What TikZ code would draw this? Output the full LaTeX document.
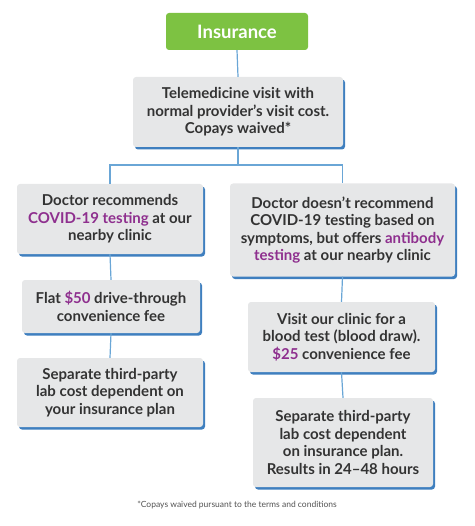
\documentclass[tikz,border=0pt]{standalone}
\usepackage{fontspec}
\setmainfont{Lato}
\usetikzlibrary{shadows}
\definecolor{boxfill}{HTML}{E6E7E8}
\definecolor{shadowblue}{HTML}{3F7FBF}
\definecolor{linkblue}{HTML}{6AA6D6}
\definecolor{txt}{HTML}{333333}
\definecolor{hl}{HTML}{8E2F8E}
\definecolor{insgreen}{HTML}{7DC242}
\newcommand{\hlt}[1]{\textcolor{hl}{#1}}
\begin{document}
\begin{tikzpicture}[x=1pt,y=-1pt,
  infobox/.style={fill=boxfill, rounded corners=3pt, align=center, inner sep=0pt,
    text=txt, font=\bfseries\fontsize{15}{17.5}\selectfont,
    drop shadow={shadow xshift=2pt, shadow yshift=-2.5pt, fill=shadowblue, opacity=1}},
  topbox/.style={fill=insgreen, rounded corners=3pt, align=center, inner sep=0pt,
    text=white, font=\bfseries\fontsize{18.5}{21}\selectfont},
  link/.style={draw=linkblue, line width=1.2pt},
  note/.style={font=\fontsize{8.5}{10}\selectfont, text=txt!85}]
\useasboundingbox (0,0) rectangle (474,526);

\node[topbox, minimum width=142pt, minimum height=37pt] (ins) at (237,31.5) {Insurance};
\node[infobox, minimum width=210pt, minimum height=70pt] (tel) at (238,112)
  {Telemedicine visit with\\normal provider’s visit cost.\\Copays waived*};
\node[infobox, minimum width=186pt, minimum height=70pt] (l1) at (110,219)
  {Doctor recommends\\\hlt{COVID-19 testing} at our\\nearby clinic};
\node[infobox, minimum width=225pt, minimum height=93pt] (r1) at (342.5,230)
  {Doctor doesn’t recommend\\COVID-19 testing based on\\symptoms, but offers \hlt{antibody}\\\hlt{testing} at our nearby clinic};
\node[infobox, minimum width=178pt, minimum height=53pt] (l2) at (111,306.5)
  {Flat \hlt{\$50} drive-through\\convenience fee};
\node[infobox, minimum width=186pt, minimum height=69pt] (l3) at (110,392.5)
  {Separate third-party\\lab cost dependent on\\your insurance plan};
\node[infobox, minimum width=187pt, minimum height=70pt] (r2) at (341.5,337)
  {Visit our clinic for a\\blood test (blood draw).\\\hlt{\$25} convenience fee};
\node[infobox, minimum width=180pt, minimum height=89pt] (r3) at (343,442.5)
  {Separate third-party\\lab cost dependent\\on insurance plan.\\Results in 24–48 hours};
\node[note] (fn) at (237,505) {*Copays waived pursuant to the terms and conditions};

\coordinate (hy) at (237,165);
\draw[link] (ins.south) -- (tel.north);
\draw[link] (tel.south) -- (tel.south |- hy);
\draw[link] (l1.north) -- (l1.north |- hy) -- (r1.north |- hy) -- (r1.north);
\draw[link] (l1.south) -- (l2.north);
\draw[link] (l2.south) -- (l3.north);
\draw[link] (r1.south) -- (r2.north);
\draw[link] (r2.south) -- (r3.north);
\end{tikzpicture}
\end{document}
